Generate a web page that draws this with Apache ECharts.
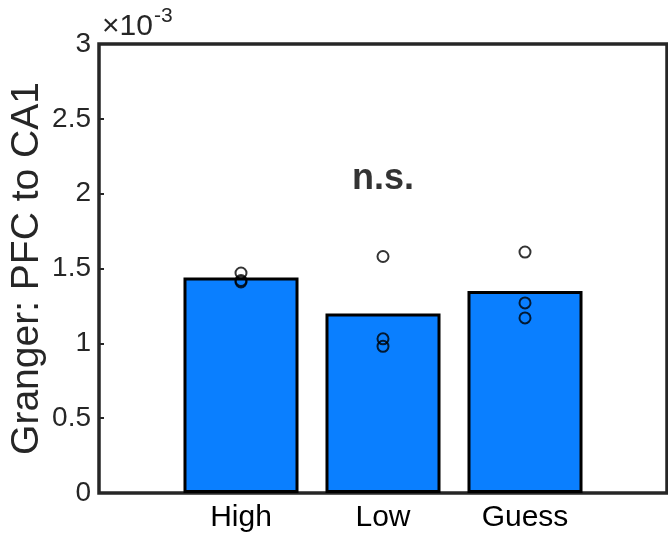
<!DOCTYPE html>
<html>
<head>
<meta charset="utf-8">
<script src="https://cdn.jsdelivr.net/npm/echarts@6/dist/echarts.min.js"></script>
<style>
    html,body{margin:0;padding:0;background:#fff;}
    #chart{width:668px;height:544px;}
</style>
</head>
<body>
<div id="chart"></div>
<script>
// categories, padded with blanks so the axis runs 0..4 like matlab xlim
var categories = ['', 'High', 'Low', 'Guess', ''];
// bar means (x 1e-3)
var barValues = ['-', 1.44, 1.20, 1.35, '-'];
// individual points (x 1e-3) per category
var highPts = [1.47, 1.42, 1.41];
var lowPts = [1.58, 1.03, 0.98];
var guessPts = [1.61, 1.27, 1.17];
var yTicks = [0, 0.5, 1, 1.5, 2, 2.5, 3];
var sigLabel = 'n.s.';
var sigPos = [2, 2.1];

var axisColor = '#262626';
var fontName = 'Liberation Sans, Arial, Helvetica, sans-serif';

var pointData = [];
highPts.forEach(function(v){ pointData.push([1, v]) });
lowPts.forEach(function(v){ pointData.push([2, v]) });
guessPts.forEach(function(v){ pointData.push([3, v]) });

var myChart = echarts.init(document.getElementById('chart'));
var option = {
    animation: false,
    textStyle: { fontFamily: fontName },
    grid: {
        left: 99,
        right: 1,
        top: 44,
        bottom: 51,
        outerBoundsMode: 'none',
        containLabel: false,
        show: true,
        borderColor: axisColor,
        borderWidth: 3.5,
        backgroundColor: '#fff'
    },
    graphic: [{
        type: 'text',
        left: 102,
        top: 6,
        style: {
            text: '{a|×10}{b|-3}',
            rich: {
                a: { fontSize: 30, fill: axisColor, fontFamily: fontName, verticalAlign: 'bottom', lineHeight: 36 },
                b: { fontSize: 21, fill: axisColor, fontFamily: fontName, verticalAlign: 'top', lineHeight: 36, padding: [0, 0, 15, 1] }
            }
        }
    }],
    xAxis: {
        type: 'category',
        data: categories,
        boundaryGap: false,
        axisLine: { show: false },
        axisTick: {
            show: true,
            inside: true,
            length: 5,
            interval: function(index){ return index >= 1 && index <= 3 },
            lineStyle: { color: axisColor, width: 2 }
        },
        axisLabel: {
            interval: 0,
            color: '#000',
            fontSize: 30,
            margin: 10
        },
        splitLine: { show: false }
    },
    yAxis: {
        type: 'value',
        min: yTicks[0],
        max: yTicks[yTicks.length - 1],
        interval: 0.5,
        name: 'Granger: PFC to CA1',
        nameLocation: 'middle',
        nameMoveOverlap: false,
        nameGap: 52,
        nameTextStyle: { fontSize: 39, color: axisColor },
        axisLine: { show: false },
        axisTick: {
            show: true,
            inside: true,
            length: 5,
            lineStyle: { color: axisColor, width: 2 }
        },
        axisLabel: {
            color: axisColor,
            fontSize: 28,
            margin: 8
        },
        splitLine: { show: false }
    },
    series: [
        {
            type: 'bar',
            data: barValues,
            barWidth: '81%',
            itemStyle: {
                color: '#0a7fff',
                borderColor: '#000',
                borderWidth: 3
            },
            z: 2
        },
        {
            type: 'scatter',
            data: pointData,
            symbol: 'circle',
            symbolSize: 11,
            itemStyle: {
                color: 'rgba(0,0,0,0)',
                borderColor: '#000',
                borderWidth: 2
            },
            z: 3
        },
        {
            type: 'scatter',
            data: [sigPos],
            symbolSize: 0,
            label: {
                show: true,
                position: 'inside',
                formatter: sigLabel,
                fontSize: 36,
                fontWeight: 'bold',
                color: '#000'
            },
            z: 4
        }
    ]
};
myChart.setOption(option);
</script>
</body>
</html>
